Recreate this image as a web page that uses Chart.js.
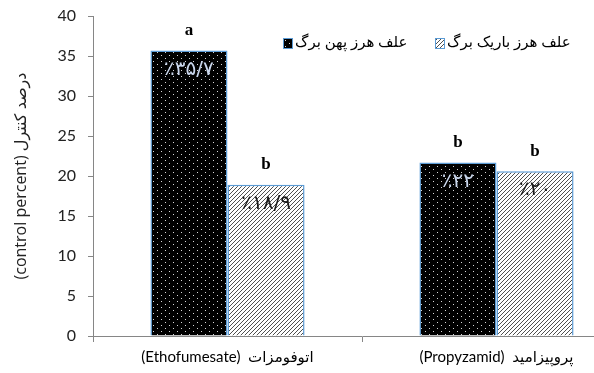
<!DOCTYPE html>
<html>
<head>
<meta charset="utf-8">
<script src="https://cdn.jsdelivr.net/npm/chart.js@4"></script>
<style>
  html,body{margin:0;padding:0;background:#fff;overflow:hidden;}
  #wrap{width:640px;height:373px;}
</style>
</head>
<body>
<div id="wrap"><canvas id="c" width="640" height="373"></canvas></div>
<script>
// data
const herbicides = ['(Ethofumesate)  اتوفومزات', '(Propyzamid)  پروپیزامید']
const broadleaf = [35.7, 21.7]
const narrowleaf = [18.9, 20.6]
const broadleafText = ['٪۳۵/۷', '٪۲۲']
const narrowleafText = ['٪۱۸/۹', '٪۲۰']
const broadleafLetters = ['a', 'b']
const narrowleafLetters = ['b', 'b']
const seriesNames = ['علف هرز پهن برگ', 'علف هرز باریک برگ']
const yTicks = [0, 5, 10, 15, 20, 25, 30, 35, 40]

const persianFont = '"Liberation Serif", "DejaVu Sans", serif'
const edge = '#5b9bd5'

function dots(){
  const t=document.createElement('canvas')
  t.width=8; t.height=6
  const g=t.getContext('2d')
  g.fillStyle='#000'; g.fillRect(0,0,8,6)
  g.fillStyle='#d8d8d8'
  g.fillRect(1,1,1,1); g.fillRect(5,4,1,1)
  return g.createPattern(t,'repeat')
}
function hatch(){
  const t=document.createElement('canvas')
  t.width=4; t.height=4
  const g=t.getContext('2d')
  g.fillStyle='#fff'; g.fillRect(0,0,4,4)
  g.strokeStyle='#222'; g.lineWidth=0.8
  g.beginPath()
  g.moveTo(-1,5); g.lineTo(5,-1)
  g.moveTo(-1,1); g.lineTo(1,-1)
  g.moveTo(3,5); g.lineTo(5,3)
  g.stroke()
  return g.createPattern(t,'repeat')
}
const fills=[dots(),hatch()]

const barText={
  id:'barText',
  afterDatasetsDraw(chart){
    const ctx=chart.ctx
    const texts=[broadleafText,narrowleafText]
    const letters=[broadleafLetters,narrowleafLetters]
    const colors=['#c9d6ec','#1a1a1a']
    ctx.save()
    ctx.textAlign='center'
    ctx.textBaseline='middle'
    chart.data.datasets.forEach((ds,i)=>{
      chart.getDatasetMeta(i).data.forEach((bar,j)=>{
        ctx.font='20px "DejaVu Sans", sans-serif'
        ctx.fillStyle=colors[i]
        ctx.fillText(texts[i][j],bar.x,bar.y+19)
        ctx.font='bold 17px "Liberation Serif", serif'
        ctx.fillStyle='#000'
        ctx.fillText(letters[i][j],bar.x,bar.y-20)
      })
    })
    // legend inside the plot area
    const items=[[283,fills[0]],[435,fills[1]]]
    ctx.textAlign='left'
    ctx.font='15px '+persianFont
    items.forEach(([x,f],i)=>{
      ctx.fillStyle=f
      ctx.fillRect(x,38,9,10)
      ctx.strokeStyle=edge; ctx.lineWidth=1
      ctx.strokeRect(x+0.5,38.5,9,10)
      ctx.fillStyle='#000'
      ctx.fillText(seriesNames[i],x+12,43)
    })
    ctx.restore()
  }
}

new Chart(document.getElementById('c'),{
  type:'bar',
  data:{
    labels:herbicides,
    datasets:[
      {label:seriesNames[0],data:broadleaf,backgroundColor:fills[0],borderColor:edge,borderWidth:1.5},
      {label:seriesNames[1],data:narrowleaf,backgroundColor:fills[1],borderColor:edge,borderWidth:1.5}
    ]
  },
  options:{
    responsive:false,
    animation:false,
    events:[],
    categoryPercentage:0.573,
    barPercentage:1,
    layout:{padding:{top:16,right:9,left:0,bottom:0}},
    plugins:{legend:{display:false},tooltip:{enabled:false}},
    scales:{
      x:{
        grid:{drawOnChartArea:false,color:'#868686',tickLength:6},
        border:{color:'#868686'},
        ticks:{color:'#000',font:{size:15,family:'Lato, "DejaVu Sans", sans-serif'},padding:6,maxRotation:0},
        afterFit(s){s.height=37;s.paddingLeft=0;s.paddingRight=0}
      },
      y:{
        min:0,max:40,
        afterBuildTicks(s){s.ticks=yTicks.map(v=>({value:v}))},
        grid:{drawOnChartArea:false,color:'#868686',tickLength:5},
        border:{color:'#868686'},
        ticks:{color:'#222',font:{size:16,family:'Lato, sans-serif'},padding:12},
        title:{display:true,text:'(control percent) درصد کنترل',color:'#222',
          font:{size:16,family:'"Open Sans", "DejaVu Sans", sans-serif'},padding:{top:12,bottom:0}},
        afterFit(s){s.width=93;s.paddingTop=0;s.paddingBottom=0}
      }
    }
  },
  plugins:[barText]
})
</script>
</body>
</html>
